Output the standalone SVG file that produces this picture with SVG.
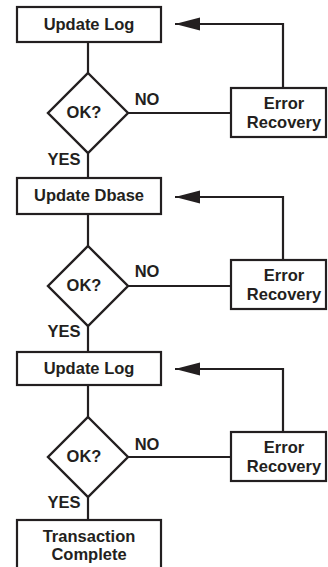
<svg xmlns="http://www.w3.org/2000/svg" width="328" height="567" viewBox="0 0 328 567">
<style>
.box{fill:#fff;stroke:#231f20;stroke-width:2.2}
.dia{fill:#fff;stroke:#231f20;stroke-width:2.4}
.ln{fill:none;stroke:#231f20;stroke-width:2.2}
text{font-family:"Liberation Sans",Arial,sans-serif;font-weight:700;font-size:16.5px;fill:#231f20;text-anchor:middle}
</style>
<defs>
<marker id="ah" markerWidth="26" markerHeight="14" refX="25" refY="6.5" orient="auto" markerUnits="userSpaceOnUse">
<path d="M0,0 L25,6.5 L0,13 Z" fill="#231f20"/>
</marker>
</defs>
<g id="connectors">
<path class="ln" d="M88,42 V73"/>
<path class="ln" d="M88,153 V178"/>
<path class="ln" d="M128,113 H231"/>
<path class="ln" d="M283,88 V24 H175" marker-end="url(#ah)"/>
<path class="ln" d="M88,214 V246"/>
<path class="ln" d="M88,326 V352"/>
<path class="ln" d="M128,286 H231"/>
<path class="ln" d="M283,260 V197 H175" marker-end="url(#ah)"/>
<path class="ln" d="M88,385 V417"/>
<path class="ln" d="M88,497 V520"/>
<path class="ln" d="M128,457 H231"/>
<path class="ln" d="M283,432 V369 H175" marker-end="url(#ah)"/>
<text x="147" y="105">NO</text>
<text x="64" y="165">YES</text>
<text x="147" y="277">NO</text>
<text x="64" y="337">YES</text>
<text x="147" y="450">NO</text>
<text x="64" y="508">YES</text>
</g>
<g id="log1"><rect class="box" x="17" y="7" width="144" height="35"/><text x="89" y="30">Update Log</text></g>
<g id="ok1"><path class="dia" d="M88,73 L128,113 L88,153 L48,113 Z"/><text x="84" y="118">OK?</text></g>
<g id="err1"><rect class="box" x="231" y="88" width="95" height="49"/><text x="284" y="109">Error</text><text x="284" y="128">Recovery</text></g>
<g id="dbase"><rect class="box" x="17" y="178" width="144" height="36"/><text x="89" y="201">Update Dbase</text></g>
<g id="ok2"><path class="dia" d="M88,246 L128,286 L88,326 L48,286 Z"/><text x="84" y="291">OK?</text></g>
<g id="err2"><rect class="box" x="231" y="260" width="95" height="49"/><text x="284" y="281">Error</text><text x="284" y="300">Recovery</text></g>
<g id="log2"><rect class="box" x="17" y="352" width="144" height="33"/><text x="89" y="374">Update Log</text></g>
<g id="ok3"><path class="dia" d="M88,417 L128,457 L88,497 L48,457 Z"/><text x="84" y="462">OK?</text></g>
<g id="err3"><rect class="box" x="231" y="432" width="95" height="49"/><text x="284" y="453">Error</text><text x="284" y="472">Recovery</text></g>
<g id="done"><rect class="box" x="17" y="520" width="144" height="60"/><text x="89" y="541.5">Transaction</text><text x="89" y="560">Complete</text></g>
</svg>
